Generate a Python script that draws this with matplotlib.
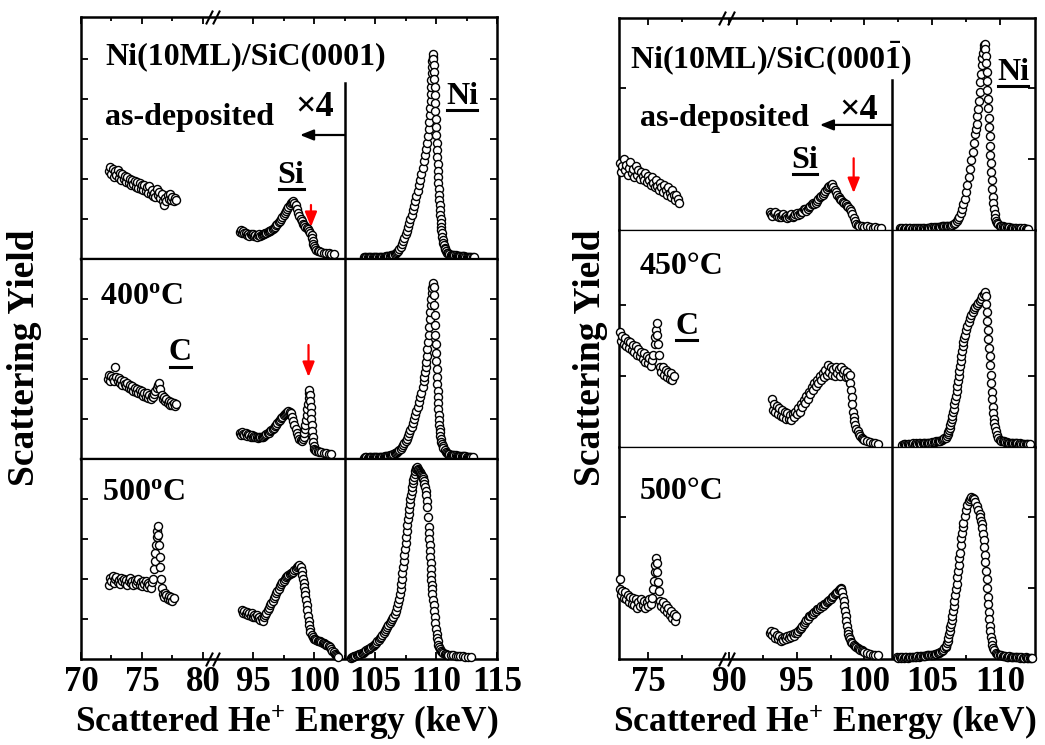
import numpy as np
import matplotlib
matplotlib.use("Agg")
import matplotlib.pyplot as plt
from matplotlib.ticker import FixedLocator, NullFormatter, NullLocator
from matplotlib.lines import Line2D

plt.rcParams['font.family'] = ['Liberation Serif', 'DejaVu Serif']
plt.rcParams['font.weight'] = 'bold'
plt.rcParams['mathtext.fontset'] = 'custom'
plt.rcParams['mathtext.rm'] = 'Liberation Serif:bold'
plt.rcParams['mathtext.bf'] = 'Liberation Serif:bold'
plt.rcParams['mathtext.it'] = 'Liberation Serif:bold:italic'
plt.rcParams['mathtext.default'] = 'rm'

# ---------------- data: (energy keV, yield) ----------------
# left figure, SiC(0001) -- C and Si parts are shown x4
lt_c = [(72.3, 2.2), (72.4, 2.3), (72.5, 2.12), (72.6, 2.25), (72.7, 2.05), (72.8, 2.2),
        (72.9, 2.1), (73.0, 2.22), (73.1, 2.02), (73.2, 2.15), (73.3, 1.98), (73.4, 2.12),
        (73.5, 2.0), (73.6, 2.08), (73.7, 1.92), (73.8, 2.05), (73.9, 1.9), (74.0, 2.0),
        (74.1, 1.85), (74.2, 1.98), (74.3, 1.88), (74.4, 1.95), (74.5, 1.8), (74.6, 1.92),
        (74.7, 1.78), (74.8, 1.9), (74.9, 1.74), (75.0, 1.86), (75.1, 1.72), (75.2, 1.85),
        (75.3, 1.7), (75.4, 1.8), (75.5, 1.66), (75.6, 1.82), (75.7, 1.62), (75.8, 1.72),
        (75.9, 1.58), (76.0, 1.66), (76.1, 1.55), (76.2, 1.74), (76.3, 1.6), (76.4, 1.68),
        (76.5, 1.52), (76.6, 1.62), (76.7, 1.45), (76.8, 1.36), (76.9, 1.52), (77.0, 1.44),
        (77.1, 1.6), (77.2, 1.5), (77.3, 1.62), (77.4, 1.48), (77.5, 1.55), (77.6, 1.45),
        (77.7, 1.52), (77.8, 1.48)]
lt_si = [(93.9, 0.68), (94.0, 0.72), (94.1, 0.66), (94.2, 0.7), (94.3, 0.64), (94.4, 0.66),
         (94.5, 0.6), (94.6, 0.63), (94.7, 0.58), (94.8, 0.62), (94.9, 0.6), (95.0, 0.63),
         (95.1, 0.58), (95.2, 0.6), (95.3, 0.56), (95.4, 0.6), (95.5, 0.62), (95.6, 0.58),
         (95.7, 0.6), (95.8, 0.63), (95.9, 0.62), (96.0, 0.66), (96.1, 0.64), (96.2, 0.68),
         (96.3, 0.7), (96.4, 0.7), (96.5, 0.73), (96.6, 0.74), (96.7, 0.77), (96.8, 0.8),
         (96.9, 0.84), (97.0, 0.88), (97.1, 0.92), (97.2, 0.96), (97.3, 1.0), (97.4, 1.05),
         (97.5, 1.1), (97.6, 1.15), (97.7, 1.2), (97.8, 1.25), (97.9, 1.3), (98.0, 1.35),
         (98.1, 1.39), (98.2, 1.42), (98.3, 1.44), (98.4, 1.4), (98.5, 1.34), (98.6, 1.26),
         (98.7, 1.16), (98.8, 1.07), (98.9, 1.0), (99.0, 0.94), (99.1, 0.88), (99.2, 0.84),
         (99.3, 0.8), (99.4, 0.77), (99.5, 0.74), (99.6, 0.7), (99.7, 0.66), (99.8, 0.6),
         (99.85, 0.52), (99.9, 0.45), (99.95, 0.38), (100.0, 0.32), (100.1, 0.27), (100.2, 0.23),
         (100.3, 0.21), (100.4, 0.19), (100.6, 0.17), (100.8, 0.16), (101.0, 0.15), (101.2, 0.14),
         (101.4, 0.13), (101.6, 0.12)]
lt_ni = [(104.1, .05), (104.2, .04), (104.3, .05), (104.4, .04), (104.5, .05), (104.6, .04),
         (104.7, .05), (104.8, .04), (104.9, .05), (105.0, .05), (105.1, .04), (105.2, .05),
         (105.3, .06), (105.4, .05), (105.5, .06), (105.6, .05), (105.7, .06), (105.8, .06),
         (105.9, .07), (106.0, .07), (106.1, .07), (106.2, .08), (106.3, .09), (106.4, .1),
         (106.5, .11), (106.6, .13), (106.7, .15), (106.8, .18), (106.9, .21), (107.0, .25),
         (107.1, .3), (107.2, .37), (107.3, .45), (107.4, .53), (107.5, .62), (107.6, .7),
         (107.7, .8), (107.8, .9), (107.9, 1.0), (108.0, 1.1), (108.1, 1.22), (108.2, 1.33),
         (108.3, 1.45), (108.4, 1.57), (108.5, 1.7), (108.6, 1.84), (108.7, 1.98), (108.8, 2.12),
         (108.9, 2.28), (109.0, 2.44), (109.1, 2.6), (109.18, 2.75), (109.25, 2.9), (109.32, 3.08),
         (109.4, 3.25), (109.45, 3.42), (109.5, 3.6), (109.53, 3.78), (109.56, 3.95),
         (109.58, 4.12), (109.6, 4.3), (109.63, 4.48), (109.65, 4.65), (109.68, 4.8),
         (109.7, 4.95), (109.73, 5.05), (109.75, 5.12), (109.78, 5.0), (109.8, 4.85),
         (109.83, 4.68), (109.85, 4.5), (109.88, 4.3), (109.9, 4.1), (109.93, 3.9), (109.95, 3.7),
         (109.98, 3.5), (110.0, 3.3), (110.03, 3.1), (110.05, 2.9), (110.08, 2.72), (110.1, 2.55),
         (110.13, 2.38), (110.15, 2.2), (110.18, 2.05), (110.2, 1.9), (110.23, 1.75),
         (110.25, 1.6), (110.28, 1.48), (110.3, 1.35), (110.33, 1.22), (110.35, 1.1),
         (110.38, 1.0), (110.4, 0.9), (110.43, 0.8), (110.45, 0.72), (110.48, 0.64), (110.5, 0.56),
         (110.55, 0.48), (110.6, 0.4), (110.65, 0.34), (110.7, 0.28), (110.75, 0.24), (110.8, 0.2),
         (110.9, 0.16), (111.0, 0.14), (111.1, 0.12), (111.2, 0.11), (111.3, 0.1), (111.4, 0.1),
         (111.5, 0.09), (111.6, 0.09), (111.7, 0.08), (111.8, 0.08), (111.9, 0.08), (112.0, 0.07),
         (112.1, 0.07), (112.2, 0.07), (112.3, 0.07), (112.4, 0.06), (112.5, 0.06), (112.6, 0.06),
         (112.7, 0.06), (112.8, 0.06), (112.9, 0.06), (113.0, 0.05), (113.1, 0.05)]

lm_c = [(72.2, 2.0), (72.3, 2.1), (72.4, 1.95), (72.5, 2.08), (72.6, 2.02), (72.7, 1.96),
        (72.8, 2.3), (72.9, 2.05), (73.0, 1.95), (73.1, 2.02), (73.2, 1.9), (73.3, 1.98),
        (73.4, 1.85), (73.5, 1.94), (73.6, 1.88), (73.7, 1.82), (73.8, 1.9), (73.9, 1.78),
        (74.0, 1.86), (74.1, 1.75), (74.2, 1.82), (74.3, 1.7), (74.4, 1.78), (74.5, 1.68),
        (74.6, 1.76), (74.7, 1.65), (74.8, 1.72), (74.9, 1.62), (75.0, 1.7), (75.1, 1.58),
        (75.2, 1.66), (75.3, 1.56), (75.4, 1.64), (75.5, 1.52), (75.6, 1.6), (75.7, 1.5),
        (75.8, 1.58), (75.9, 1.55), (76.0, 1.62), (76.1, 1.7), (76.2, 1.78), (76.3, 1.85),
        (76.4, 1.9), (76.5, 1.75), (76.6, 1.6), (76.7, 1.5), (76.8, 1.56), (76.9, 1.45),
        (77.0, 1.5), (77.1, 1.4), (77.2, 1.46), (77.3, 1.36), (77.4, 1.42), (77.5, 1.35),
        (77.6, 1.4), (77.7, 1.33), (77.8, 1.38)]
lm_si = [(93.9, 0.65), (94.0, 0.6), (94.1, 0.68), (94.2, 0.62), (94.3, 0.6), (94.4, 0.64),
         (94.5, 0.58), (94.6, 0.62), (94.7, 0.6), (94.8, 0.56), (94.9, 0.6), (95.0, 0.55),
         (95.1, 0.58), (95.2, 0.54), (95.3, 0.56), (95.4, 0.53), (95.5, 0.55), (95.6, 0.54),
         (95.7, 0.56), (95.8, 0.55), (95.9, 0.58), (96.0, 0.59), (96.1, 0.62), (96.2, 0.64),
         (96.3, 0.66), (96.4, 0.69), (96.5, 0.72), (96.6, 0.75), (96.7, 0.78), (96.8, 0.82),
         (96.9, 0.86), (97.0, 0.9), (97.1, 0.94), (97.2, 0.98), (97.3, 1.02), (97.4, 1.06),
         (97.5, 1.1), (97.6, 1.13), (97.7, 1.16), (97.8, 1.18), (97.9, 1.19), (98.0, 1.18),
         (98.1, 1.14), (98.2, 1.06), (98.3, 0.96), (98.4, 0.86), (98.5, 0.76), (98.6, 0.66),
         (98.7, 0.58), (98.8, 0.51), (98.9, 0.47), (99.0, 0.45), (99.1, 0.5), (99.15, 0.56),
         (99.2, 0.64), (99.25, 0.74), (99.3, 0.86), (99.35, 0.98), (99.4, 1.1), (99.45, 1.24),
         (99.5, 1.38), (99.55, 1.52), (99.6, 1.65), (99.63, 1.73), (99.67, 1.6), (99.7, 1.45),
         (99.73, 1.3), (99.76, 1.15), (99.79, 1.0), (99.82, 0.85), (99.85, 0.7), (99.88, 0.55),
         (99.92, 0.42), (99.96, 0.32), (100.0, 0.26), (100.1, 0.22), (100.2, 0.2), (100.3, 0.19),
         (100.4, 0.18), (100.6, 0.17), (100.8, 0.15), (101.0, 0.14), (101.2, 0.13), (101.4, 0.12)]
lm_ni = [(104.1, .03), (104.2, .04), (104.3, .04), (104.4, .03), (104.5, .04), (104.6, .04),
         (104.7, .04), (104.8, .05), (104.9, .04), (105.0, .05), (105.1, .05), (105.2, .05),
         (105.3, .05), (105.4, .05), (105.5, .06), (105.6, .06), (105.7, .06), (105.8, .07),
         (105.9, .07), (106.0, .08), (106.1, .08), (106.2, .09), (106.3, .1), (106.4, .11),
         (106.5, .12), (106.6, .14), (106.7, .16), (106.8, .18), (106.9, .2), (107.0, .23),
         (107.1, .26), (107.2, .3), (107.3, .34), (107.4, .39), (107.5, .45), (107.6, .51),
         (107.7, .58), (107.8, .65), (107.9, .73), (108.0, .81), (108.1, .9), (108.2, 1.0),
         (108.3, 1.1), (108.4, 1.2), (108.5, 1.31), (108.6, 1.42), (108.7, 1.54), (108.8, 1.66),
         (108.9, 1.8), (109.0, 1.95), (109.05, 2.05), (109.1, 2.18), (109.15, 2.3), (109.2, 2.42),
         (109.25, 2.58), (109.3, 2.75), (109.35, 2.92), (109.4, 3.1), (109.45, 3.3), (109.5, 3.5),
         (109.54, 3.68), (109.58, 3.85), (109.62, 4.0), (109.66, 4.15), (109.7, 4.28),
         (109.74, 4.36), (109.78, 4.4), (109.82, 4.3), (109.85, 4.1), (109.87, 3.85), (109.9, 3.6),
         (109.92, 3.35), (109.95, 3.1), (109.97, 2.88), (110.0, 2.65), (110.03, 2.45),
         (110.05, 2.25), (110.08, 2.05), (110.1, 1.88), (110.13, 1.7), (110.15, 1.55),
         (110.18, 1.4), (110.2, 1.25), (110.23, 1.1), (110.25, 0.98), (110.28, 0.86), (110.3, 0.76),
         (110.33, 0.67), (110.36, 0.58), (110.4, 0.5), (110.45, 0.43), (110.5, 0.37),
         (110.55, 0.32), (110.6, 0.28), (110.7, 0.22), (110.8, 0.18), (110.9, 0.15), (111.0, 0.13),
         (111.1, 0.12), (111.2, 0.11), (111.3, 0.1), (111.4, 0.1), (111.5, 0.09), (111.6, 0.09),
         (111.7, 0.08), (111.8, 0.08), (111.9, 0.08), (112.0, 0.08), (112.1, 0.07), (112.2, 0.07),
         (112.3, 0.07), (112.4, 0.07), (112.5, 0.06), (112.6, 0.06), (112.7, 0.06), (112.8, 0.06),
         (112.9, 0.06), (113.0, 0.06)]

lb_c = [(72.3, 1.85), (72.4, 2.02), (72.5, 1.95), (72.6, 2.08), (72.7, 1.9), (72.8, 2.0),
        (72.9, 2.05), (73.0, 1.92), (73.1, 1.98), (73.2, 1.88), (73.3, 2.02), (73.4, 1.94),
        (73.5, 2.0), (73.6, 1.9), (73.7, 1.98), (73.8, 1.86), (73.9, 1.95), (74.0, 2.02),
        (74.1, 1.9), (74.2, 1.96), (74.3, 1.85), (74.4, 1.98), (74.5, 1.88), (74.6, 1.94),
        (74.7, 2.0), (74.8, 1.86), (74.9, 1.92), (75.0, 1.82), (75.1, 1.96), (75.2, 1.88),
        (75.3, 1.95), (75.4, 1.8), (75.5, 1.9), (75.6, 1.84), (75.7, 1.78), (75.8, 1.92),
        (75.9, 2.0), (76.0, 2.25), (76.05, 2.45), (76.1, 2.65), (76.15, 2.85), (76.2, 3.05),
        (76.25, 3.2), (76.3, 3.32), (76.35, 3.1), (76.4, 2.85), (76.45, 2.55), (76.5, 2.3),
        (76.55, 2.0), (76.6, 1.78), (76.7, 1.62), (76.8, 1.55), (76.9, 1.65), (77.0, 1.6),
        (77.1, 1.5), (77.2, 1.58), (77.3, 1.48), (77.4, 1.55), (77.5, 1.46), (77.6, 1.52)]
lb_si = [(94.1, 1.22), (94.2, 1.16), (94.3, 1.2), (94.4, 1.12), (94.5, 1.18), (94.6, 1.1),
         (94.7, 1.15), (94.8, 1.08), (94.9, 1.14), (95.0, 1.06), (95.1, 1.1), (95.2, 1.04),
         (95.3, 1.1), (95.4, 1.02), (95.5, 1.06), (95.6, 0.98), (95.7, 1.02), (95.8, 0.96),
         (95.9, 1.05), (96.0, 1.1), (96.1, 1.16), (96.2, 1.22), (96.3, 1.28), (96.4, 1.34),
         (96.5, 1.4), (96.6, 1.46), (96.7, 1.52), (96.8, 1.58), (96.9, 1.64), (97.0, 1.7),
         (97.1, 1.76), (97.2, 1.82), (97.3, 1.88), (97.4, 1.92), (97.5, 1.96), (97.6, 2.0),
         (97.7, 2.04), (97.8, 2.08), (97.9, 2.1), (98.0, 2.12), (98.1, 2.14), (98.2, 2.16),
         (98.3, 2.18), (98.4, 2.22), (98.5, 2.26), (98.6, 2.3), (98.7, 2.32), (98.8, 2.34),
         (98.9, 2.3), (99.0, 2.2), (99.05, 2.1), (99.1, 2.0), (99.15, 1.9), (99.2, 1.8),
         (99.25, 1.7), (99.3, 1.6), (99.35, 1.48), (99.4, 1.36), (99.45, 1.22), (99.5, 1.08),
         (99.55, 0.95), (99.6, 0.84), (99.65, 0.75), (99.7, 0.68), (99.8, 0.6), (99.9, 0.55),
         (100.0, 0.51), (100.1, 0.49), (100.2, 0.47), (100.3, 0.46), (100.4, 0.45), (100.5, 0.44),
         (100.6, 0.43), (100.7, 0.41), (100.8, 0.4), (100.9, 0.38), (101.0, 0.36), (101.1, 0.34),
         (101.2, 0.32), (101.3, 0.29), (101.4, 0.25), (101.5, 0.21), (101.6, 0.17), (101.7, 0.13),
         (101.8, 0.1), (101.9, 0.07), (102.0, 0.05)]
lb_ni = [(103.0, .03), (103.1, .04), (103.2, .05), (103.3, .07), (103.4, .08), (103.5, .09),
         (103.6, .1), (103.7, .12), (103.8, .13), (103.9, .15), (104.0, .16), (104.1, .18),
         (104.2, .2), (104.3, .22), (104.4, .24), (104.5, .26), (104.6, .28), (104.7, .3),
         (104.8, .32), (104.9, .35), (105.0, .38), (105.1, .41), (105.2, .45), (105.3, .48),
         (105.4, .52), (105.5, .56), (105.6, .6), (105.7, .65), (105.8, .7), (105.9, .75),
         (106.0, .8), (106.1, .85), (106.2, .9), (106.3, .95), (106.4, 1.0), (106.5, 1.06),
         (106.6, 1.12), (106.7, 1.2), (106.8, 1.3), (106.88, 1.4), (106.95, 1.5), (107.02, 1.62),
         (107.1, 1.75), (107.15, 1.88), (107.2, 2.0), (107.25, 2.15), (107.3, 2.3), (107.35, 2.45),
         (107.4, 2.6), (107.45, 2.75), (107.5, 2.9), (107.55, 3.05), (107.6, 3.2), (107.65, 3.35),
         (107.7, 3.5), (107.75, 3.62), (107.8, 3.75), (107.85, 3.88), (107.9, 4.0), (107.95, 4.1),
         (108.0, 4.2), (108.05, 4.3), (108.1, 4.4), (108.15, 4.48), (108.2, 4.55), (108.25, 4.62),
         (108.3, 4.7), (108.35, 4.75), (108.4, 4.78), (108.45, 4.8), (108.5, 4.75), (108.55, 4.72),
         (108.6, 4.7), (108.65, 4.68), (108.7, 4.65), (108.75, 4.62), (108.8, 4.6), (108.85, 4.58),
         (108.9, 4.55), (108.95, 4.5), (109.0, 4.45), (109.05, 4.38), (109.1, 4.3), (109.15, 4.2),
         (109.2, 4.1), (109.25, 3.95), (109.3, 3.8), (109.35, 3.55), (109.4, 3.3), (109.43, 3.15),
         (109.45, 3.0), (109.48, 2.85), (109.5, 2.7), (109.53, 2.55), (109.55, 2.4),
         (109.58, 2.25), (109.6, 2.1), (109.63, 1.98), (109.65, 1.85), (109.68, 1.74),
         (109.7, 1.62), (109.75, 1.48), (109.8, 1.35), (109.85, 1.2), (109.9, 1.05), (109.95, 0.9),
         (110.0, 0.75), (110.05, 0.63), (110.1, 0.52), (110.15, 0.44), (110.2, 0.36), (110.25, 0.3),
         (110.3, 0.25), (110.4, 0.2), (110.5, 0.17), (110.6, 0.14), (110.7, 0.13), (110.8, 0.12),
         (110.9, 0.11), (111.0, 0.1), (111.2, 0.09), (111.4, 0.09), (111.6, 0.08), (111.8, 0.08),
         (112.0, 0.07), (112.2, 0.07), (112.4, 0.06), (112.6, 0.06), (112.9, 0.05)]

# right figure, SiC(000-1)
rt_c = [(72.9, 0.95), (73.0, 0.82), (73.1, 0.9), (73.2, 1.0), (73.3, 0.84), (73.4, 0.92),
        (73.5, 0.78), (73.6, 0.88), (73.7, 0.96), (73.8, 0.8), (73.9, 0.86), (74.0, 0.74),
        (74.1, 0.9), (74.2, 0.78), (74.3, 0.84), (74.4, 0.72), (74.5, 0.82), (74.6, 0.76),
        (74.7, 0.7), (74.8, 0.8), (74.9, 0.68), (75.0, 0.76), (75.1, 0.7), (75.2, 0.64),
        (75.3, 0.74), (75.4, 0.66), (75.5, 0.6), (75.6, 0.7), (75.7, 0.62), (75.8, 0.56),
        (75.9, 0.66), (76.0, 0.6), (76.1, 0.54), (76.2, 0.64), (76.3, 0.56), (76.4, 0.5),
        (76.5, 0.6), (76.6, 0.52), (76.7, 0.46), (76.8, 0.56), (76.9, 0.5), (77.0, 0.42),
        (77.1, 0.5), (77.2, 0.44), (77.3, 0.38)]
rt_si = [(93.0, 0.26), (93.1, 0.22), (93.2, 0.2), (93.3, 0.24), (93.4, 0.25), (93.5, 0.2),
         (93.6, 0.22), (93.7, 0.19), (93.8, 0.18), (93.9, 0.21), (94.0, 0.23), (94.1, 0.19),
         (94.2, 0.2), (94.3, 0.17), (94.4, 0.18), (94.5, 0.21), (94.6, 0.22), (94.7, 0.19),
         (94.8, 0.2), (94.9, 0.23), (95.0, 0.24), (95.1, 0.21), (95.2, 0.22), (95.3, 0.25),
         (95.4, 0.26), (95.5, 0.29), (95.6, 0.3), (95.7, 0.27), (95.8, 0.29), (95.9, 0.32),
         (96.0, 0.34), (96.1, 0.37), (96.2, 0.38), (96.3, 0.36), (96.4, 0.38), (96.5, 0.41),
         (96.6, 0.43), (96.7, 0.46), (96.8, 0.48), (96.9, 0.5), (97.0, 0.52), (97.1, 0.55),
         (97.2, 0.58), (97.3, 0.6), (97.4, 0.62), (97.5, 0.64), (97.6, 0.65), (97.7, 0.6),
         (97.8, 0.56), (97.9, 0.53), (98.0, 0.5), (98.1, 0.47), (98.2, 0.44), (98.3, 0.42),
         (98.4, 0.4), (98.5, 0.38), (98.6, 0.36), (98.7, 0.34), (98.8, 0.32), (98.9, 0.3),
         (99.0, 0.27), (99.1, 0.22), (99.2, 0.17), (99.3, 0.12), (99.4, 0.09), (99.5, 0.07),
         (99.6, 0.06), (99.8, 0.05), (100.0, 0.04), (100.2, 0.05), (100.4, 0.04), (100.6, 0.03),
         (100.8, 0.04), (101.0, 0.03), (101.2, 0.03)]
rt_ni = [(102.6, .03), (102.7, .02), (102.8, .03), (102.9, .02), (103.0, .03), (103.1, .03),
         (103.2, .02), (103.3, .03), (103.4, .03), (103.5, .02), (103.6, .03), (103.7, .03),
         (103.8, .02), (103.9, .03), (104.0, .03), (104.1, .02), (104.2, .03), (104.3, .03),
         (104.4, .03), (104.5, .02), (104.6, .03), (104.7, .03), (104.8, .03), (104.9, .04),
         (105.0, .03), (105.1, .04), (105.2, .03), (105.3, .04), (105.4, .04), (105.5, .04),
         (105.6, .04), (105.7, .05), (105.8, .05), (105.9, .05), (106.0, .05), (106.1, .05),
         (106.2, .05), (106.3, .06), (106.4, .06), (106.5, .07), (106.6, .08), (106.7, .1),
         (106.8, .12), (106.9, .15), (107.0, .19), (107.1, .24), (107.2, .3), (107.3, .36),
         (107.4, .44), (107.5, .53), (107.6, .63), (107.7, .74), (107.8, .86), (107.9, .98),
         (108.0, 1.1), (108.1, 1.22), (108.2, 1.35), (108.25, 1.42), (108.3, 1.5), (108.35, 1.6),
         (108.4, 1.7), (108.45, 1.82), (108.5, 1.95), (108.55, 2.08), (108.6, 2.2), (108.65, 2.32),
         (108.7, 2.42), (108.75, 2.5), (108.8, 2.56), (108.85, 2.6), (108.9, 2.62), (108.94, 2.55),
         (108.97, 2.45), (109.0, 2.35), (109.03, 2.22), (109.06, 2.1), (109.09, 1.97),
         (109.12, 1.84), (109.15, 1.72), (109.18, 1.58), (109.21, 1.45), (109.24, 1.32),
         (109.27, 1.19), (109.3, 1.06), (109.33, 0.94), (109.36, 0.82), (109.4, 0.7),
         (109.44, 0.58), (109.48, 0.47), (109.52, 0.38), (109.57, 0.3), (109.62, 0.23),
         (109.68, 0.17), (109.75, 0.13), (109.82, 0.1), (109.9, 0.08), (110.0, 0.06), (110.1, 0.05),
         (110.2, 0.05), (110.3, 0.04), (110.4, 0.04), (110.5, 0.04), (110.6, 0.03), (110.7, 0.04),
         (110.8, 0.03), (110.9, 0.03), (111.0, 0.03), (111.1, 0.03), (111.2, 0.03), (111.3, 0.02),
         (111.4, 0.03), (111.5, 0.02), (111.6, 0.03), (111.7, 0.02), (111.8, 0.03), (111.9, 0.02),
         (112.0, 0.02), (112.1, 0.02)]

rm_c = [(72.9, 1.62), (73.0, 1.5), (73.1, 1.56), (73.2, 1.45), (73.3, 1.54), (73.4, 1.42),
        (73.5, 1.5), (73.6, 1.4), (73.7, 1.48), (73.8, 1.36), (73.9, 1.44), (74.0, 1.34),
        (74.1, 1.42), (74.2, 1.3), (74.3, 1.38), (74.4, 1.28), (74.5, 1.34), (74.6, 1.24),
        (74.7, 1.32), (74.8, 1.2), (74.9, 1.28), (75.0, 1.18), (75.1, 1.25), (75.2, 1.14),
        (75.3, 1.22), (75.4, 1.3), (75.5, 1.45), (75.55, 1.55), (75.6, 1.65), (75.65, 1.74),
        (75.7, 1.58), (75.75, 1.45), (75.8, 1.3), (75.9, 1.12), (76.0, 1.06), (76.1, 1.12),
        (76.2, 1.02), (76.3, 1.08), (76.4, 0.98), (76.5, 1.05), (76.6, 0.96), (76.7, 1.04),
        (76.8, 0.95), (76.9, 1.0)]
rm_si = [(93.2, 0.68), (93.25, 0.52), (93.3, 0.6), (93.4, 0.5), (93.5, 0.58), (93.6, 0.46),
         (93.7, 0.55), (93.8, 0.44), (93.9, 0.52), (94.0, 0.42), (94.1, 0.5), (94.2, 0.4),
         (94.3, 0.48), (94.4, 0.4), (94.5, 0.45), (94.6, 0.38), (94.7, 0.46), (94.8, 0.42),
         (94.9, 0.5), (95.0, 0.46), (95.1, 0.55), (95.2, 0.5), (95.3, 0.6), (95.4, 0.56),
         (95.5, 0.66), (95.6, 0.62), (95.7, 0.72), (95.8, 0.68), (95.9, 0.78), (96.0, 0.74),
         (96.1, 0.84), (96.2, 0.8), (96.3, 0.9), (96.4, 0.86), (96.5, 0.95), (96.6, 0.9),
         (96.7, 1.0), (96.8, 0.94), (96.9, 1.04), (97.0, 0.98), (97.1, 1.08), (97.2, 1.02),
         (97.3, 1.15), (97.4, 1.06), (97.5, 1.12), (97.6, 1.02), (97.7, 1.1), (97.8, 1.0),
         (97.9, 1.12), (98.0, 1.04), (98.1, 1.1), (98.2, 1.0), (98.3, 1.12), (98.4, 1.04),
         (98.5, 1.08), (98.6, 0.98), (98.7, 1.06), (98.8, 0.98), (98.9, 1.02), (98.95, 0.9),
         (99.0, 0.8), (99.05, 0.7), (99.1, 0.6), (99.15, 0.5), (99.2, 0.42), (99.25, 0.36),
         (99.3, 0.31), (99.4, 0.26), (99.5, 0.22), (99.6, 0.19), (99.7, 0.16), (99.8, 0.13),
         (99.9, 0.11), (100.0, 0.1), (100.2, 0.08), (100.4, 0.07), (100.6, 0.05), (100.8, 0.05),
         (101.0, 0.04)]
rm_ni = [(102.8, .03), (102.9, .04), (103.0, .04), (103.1, .03), (103.2, .04), (103.3, .04),
         (103.4, .03), (103.5, .04), (103.6, .05), (103.7, .04), (103.8, .05), (103.9, .04),
         (104.0, .05), (104.1, .05), (104.2, .04), (104.3, .05), (104.4, .05), (104.5, .06),
         (104.6, .05), (104.7, .06), (104.8, .06), (104.9, .06), (105.0, .07), (105.1, .07),
         (105.2, .07), (105.3, .08), (105.4, .08), (105.5, .09), (105.6, .09), (105.7, .1),
         (105.8, .11), (105.9, .12), (106.0, .13), (106.1, .15), (106.15, .18), (106.2, .21),
         (106.25, .24), (106.3, .27), (106.35, .31), (106.4, .35), (106.45, .39), (106.5, .44),
         (106.55, .49), (106.6, .54), (106.65, .6), (106.7, .66), (106.75, .72), (106.8, .79),
         (106.85, .86), (106.9, .93), (106.95, 1.0), (107.0, 1.07), (107.05, 1.14), (107.1, 1.21),
         (107.15, 1.28), (107.2, 1.35), (107.25, 1.42), (107.3, 1.48), (107.35, 1.53),
         (107.4, 1.58), (107.5, 1.65), (107.6, 1.71), (107.7, 1.76), (107.8, 1.81), (107.9, 1.86),
         (108.0, 1.9), (108.1, 1.94), (108.2, 1.97), (108.3, 2.0), (108.4, 2.03), (108.5, 2.06),
         (108.6, 2.09), (108.7, 2.12), (108.8, 2.15), (108.9, 2.18), (108.95, 2.12), (109.0, 2.02),
         (109.04, 1.9), (109.08, 1.78), (109.12, 1.65), (109.16, 1.52), (109.2, 1.4),
         (109.24, 1.28), (109.28, 1.15), (109.32, 1.02), (109.36, 0.9), (109.4, 0.78),
         (109.44, 0.67), (109.48, 0.57), (109.52, 0.48), (109.56, 0.4), (109.6, 0.34),
         (109.65, 0.28), (109.7, 0.23), (109.8, 0.17), (109.9, 0.13), (110.0, 0.1), (110.1, 0.09),
         (110.2, 0.08), (110.3, 0.08), (110.4, 0.07), (110.5, 0.07), (110.6, 0.06), (110.7, 0.06),
         (110.8, 0.06), (110.9, 0.05), (111.0, 0.05), (111.1, 0.05), (111.2, 0.05), (111.3, 0.05),
         (111.4, 0.04), (111.5, 0.05), (111.6, 0.04), (111.7, 0.04), (111.8, 0.04), (111.9, 0.04),
         (112.0, 0.04), (112.1, 0.04), (112.2, 0.04)]

rb_c = [(72.9, 1.12), (72.95, 0.98), (73.0, 0.9), (73.1, 0.96), (73.2, 0.86), (73.3, 0.94),
        (73.4, 0.84), (73.5, 0.9), (73.6, 0.8), (73.7, 0.88), (73.8, 0.78), (73.9, 0.86),
        (74.0, 0.76), (74.1, 0.84), (74.2, 0.72), (74.3, 0.8), (74.4, 0.74), (74.5, 0.84),
        (74.6, 0.76), (74.7, 0.82), (74.8, 0.72), (74.9, 0.8), (75.0, 0.74), (75.1, 0.84),
        (75.2, 0.78), (75.3, 0.86), (75.4, 0.98), (75.45, 1.1), (75.5, 1.22), (75.55, 1.32),
        (75.6, 1.42), (75.65, 1.35), (75.7, 1.22), (75.75, 1.08), (75.8, 0.96), (75.9, 0.82),
        (76.0, 0.74), (76.1, 0.8), (76.2, 0.7), (76.3, 0.76), (76.4, 0.66), (76.5, 0.72),
        (76.6, 0.62), (76.7, 0.68), (76.8, 0.58), (76.9, 0.64), (77.0, 0.54), (77.1, 0.6)]
rb_si = [(93.0, 0.36), (93.1, 0.4), (93.2, 0.34), (93.3, 0.38), (93.4, 0.3), (93.5, 0.34),
         (93.6, 0.28), (93.7, 0.32), (93.8, 0.26), (93.9, 0.3), (94.0, 0.27), (94.1, 0.31),
         (94.2, 0.28), (94.3, 0.33), (94.4, 0.3), (94.5, 0.34), (94.6, 0.31), (94.7, 0.35),
         (94.8, 0.33), (94.9, 0.37), (95.0, 0.36), (95.1, 0.4), (95.2, 0.42), (95.3, 0.44),
         (95.4, 0.47), (95.5, 0.5), (95.6, 0.52), (95.7, 0.55), (95.8, 0.57), (95.9, 0.6),
         (96.0, 0.61), (96.1, 0.63), (96.2, 0.64), (96.3, 0.66), (96.4, 0.68), (96.5, 0.7),
         (96.6, 0.71), (96.7, 0.72), (96.8, 0.74), (96.9, 0.75), (97.0, 0.77), (97.1, 0.78),
         (97.2, 0.8), (97.3, 0.81), (97.4, 0.83), (97.5, 0.85), (97.6, 0.87), (97.7, 0.89),
         (97.8, 0.91), (97.9, 0.93), (98.0, 0.95), (98.1, 0.97), (98.2, 0.99), (98.25, 1.0),
         (98.3, 0.98), (98.35, 0.94), (98.4, 0.88), (98.45, 0.82), (98.5, 0.75), (98.55, 0.68),
         (98.6, 0.6), (98.65, 0.53), (98.7, 0.46), (98.75, 0.4), (98.8, 0.35), (98.85, 0.31),
         (98.9, 0.28), (99.0, 0.24), (99.1, 0.22), (99.2, 0.2), (99.3, 0.18), (99.4, 0.17),
         (99.5, 0.16), (99.6, 0.14), (99.7, 0.13), (99.8, 0.12), (99.9, 0.11), (100.0, 0.1),
         (100.2, 0.08), (100.4, 0.07), (100.6, 0.06), (100.8, 0.05), (101.0, 0.05)]
rb_ni = [(102.4, .03), (102.5, .02), (102.6, .03), (102.7, .02), (102.8, .03), (102.9, .02),
         (103.0, .03), (103.1, .03), (103.2, .02), (103.3, .03), (103.4, .03), (103.5, .03),
         (103.6, .03), (103.7, .03), (103.8, .03), (103.9, .04), (104.0, .03), (104.1, .04),
         (104.2, .04), (104.3, .04), (104.4, .04), (104.5, .04), (104.6, .05), (104.7, .05),
         (104.8, .05), (104.9, .05), (105.0, .06), (105.1, .06), (105.2, .07), (105.3, .07),
         (105.4, .08), (105.5, .09), (105.6, .1), (105.7, .11), (105.8, .13), (105.9, .15),
         (106.0, .17), (106.05, .19), (106.1, .22), (106.15, .26), (106.2, .3), (106.25, .35),
         (106.3, .4), (106.35, .45), (106.4, .5), (106.45, .55), (106.5, .6), (106.55, .67),
         (106.6, .74), (106.65, .82), (106.7, .9), (106.75, .98), (106.8, 1.06), (106.85, 1.15),
         (106.9, 1.24), (106.95, 1.33), (107.0, 1.42), (107.05, 1.5), (107.1, 1.6), (107.15, 1.7),
         (107.2, 1.78), (107.25, 1.86), (107.3, 1.92), (107.4, 2.02), (107.5, 2.1), (107.6, 2.17),
         (107.7, 2.22), (107.8, 2.26), (107.9, 2.28), (108.0, 2.27), (108.1, 2.25), (108.2, 2.21),
         (108.3, 2.16), (108.4, 2.1), (108.5, 2.04), (108.55, 2.0), (108.6, 1.95), (108.65, 1.9),
         (108.7, 1.84), (108.75, 1.76), (108.8, 1.68), (108.85, 1.58), (108.9, 1.47),
         (108.94, 1.36), (108.98, 1.24), (109.02, 1.12), (109.06, 1.0), (109.1, 0.88),
         (109.14, 0.77), (109.18, 0.66), (109.22, 0.56), (109.26, 0.47), (109.3, 0.39),
         (109.35, 0.31), (109.4, 0.25), (109.45, 0.2), (109.5, 0.16), (109.6, 0.12), (109.7, 0.09),
         (109.8, 0.07), (109.9, 0.06), (110.0, 0.05), (110.1, 0.05), (110.2, 0.04), (110.3, 0.04),
         (110.4, 0.04), (110.5, 0.03), (110.6, 0.03), (110.7, 0.04), (110.8, 0.03), (110.9, 0.03),
         (111.0, 0.03), (111.1, 0.03), (111.2, 0.03), (111.3, 0.03), (111.4, 0.03), (111.5, 0.02),
         (111.6, 0.03), (111.7, 0.02), (111.8, 0.02), (111.9, 0.03), (112.0, 0.02), (112.1, 0.02),
         (112.2, 0.02), (112.3, 0.02), (112.4, 0.02)]

left_rows = [[lt_c, lt_si, lt_ni], [lm_c, lm_si, lm_ni], [lb_c, lb_si, lb_ni]]
right_rows = [[rt_c, rt_si, rt_ni], [rm_c, rm_si, rm_ni], [rb_c, rb_si, rb_ni]]

left_ticks = [70, 75, 80, 95, 100, 105, 110, 115]
left_minor = [72.5, 77.5, 97.5, 102.5, 107.5, 112.5]
right_ticks = [75, 90, 95, 100, 105, 110]
right_minor = [77.5, 92.5, 97.5, 102.5, 107.5]

# ---------------- layout ----------------
W, H = 1045, 745
fig = plt.figure(figsize=(W / 100, H / 100), dpi=100)
renderer = fig.canvas.get_renderer()
FS = 23


def broken(a, b):
    gap = b - a

    def fwd(x):
        x = np.asarray(x, dtype=float)
        return np.where(x <= a, x, np.where(x >= b, x - gap, a))

    def inv(u):
        u = np.asarray(u, dtype=float)
        return np.where(u <= a, u, u + gap)
    return fwd, inv


def make_panel(x0, x1, rows, unit, xlim, brk, major, minor, yt, rows_data, inner_lw):
    axes = []
    for i, ((y0, y1), segs) in enumerate(zip(rows, rows_data)):
        ax = fig.add_axes([x0 / W, 1 - y1 / H, (x1 - x0) / W, (y1 - y0) / H])
        ax.set_xscale('function', functions=broken(*brk))
        ax.set_xlim(*xlim)
        ax.set_ylim(0, (y1 - y0) / unit)
        ax.xaxis.set_major_locator(FixedLocator(major))
        ax.xaxis.set_minor_locator(FixedLocator(minor))
        ax.xaxis.set_minor_formatter(NullFormatter())
        ax.yaxis.set_major_locator(FixedLocator(yt))
        ax.yaxis.set_minor_locator(NullLocator())
        ax.set_xticklabels([str(v) for v in major])
        ax.tick_params(axis='both', which='both', direction='in', width=1.3,
                       left=True, right=True, top=(i == 0), bottom=(i == 2),
                       labelleft=False, labelbottom=(i == 2), labelsize=25, pad=5)
        ax.tick_params(axis='both', which='major', length=5)
        ax.tick_params(axis='x', which='minor', length=3)
        for s in ('left', 'right'):
            ax.spines[s].set_linewidth(1.8)
        ax.spines['top'].set_linewidth(1.8 if i == 0 else inner_lw)
        ax.spines['bottom'].set_linewidth(1.8 if i == 2 else inner_lw)
        for seg in segs:
            e, y = np.array(seg).T
            ax.plot(e, y, 'o', ms=5.8, mfc='white', mec='black', mew=1.0,
                    clip_on=False, zorder=3)
        axes.append(ax)
    # axis break marks
    for ax, yy in ((axes[0], 1), (axes[2], 0)):
        ax.plot([brk[0] - 0.3, brk[1] + 0.3], [yy, yy], transform=ax.get_xaxis_transform(),
                marker=[(-0.5, -1), (0.5, 1)], ms=10, ls='none', mec='k', mew=1.5,
                clip_on=False, zorder=5)
    return axes


L = make_panel(81, 497, [(17, 259), (259, 459), (459, 659)], 40, (70, 115), (80.8, 91.7),
               left_ticks, left_minor, [1, 2, 3, 4, 5], left_rows, 1.6)
R = make_panel(619, 1035, [(18, 230), (230, 447), (447, 659)], 71, (72.86, 112.6), (80.8, 89.8),
               right_ticks, right_minor, [1, 2], right_rows, 0.9)


def label(ax, x, y, s, size=FS, ha='left', underline=False):
    t = ax.text(x, y, s, transform=ax.transAxes, fontsize=size, ha=ha, va='center',
                fontweight='bold', zorder=6)
    if underline:
        bb = t.get_window_extent(renderer=renderer)
        inv = ax.transAxes.inverted()
        (ux0, uy), (ux1, _) = inv.transform([(bb.x0 + 1, bb.y0 + 1), (bb.x1 - 1, bb.y0 + 1)])
        ax.add_line(Line2D([ux0, ux1], [uy, uy], transform=ax.transAxes, color='k', lw=2.2,
                           clip_on=False))
    return t


def red_arrow(ax, x, ytop, ybot):
    ax.annotate('', xy=(x, ybot), xytext=(x, ytop),
                arrowprops=dict(arrowstyle='-|>,head_length=0.5,head_width=0.2', color='red',
                                lw=1.6, shrinkA=0, shrinkB=0, mutation_scale=18))


def x4_arrow(ax, x_from, x_to, y):
    ax.annotate('', xy=(x_to, y), xytext=(x_from, y),
                arrowprops=dict(arrowstyle='-|>,head_length=0.5,head_width=0.2', color='k',
                                lw=1.6, shrinkA=0, shrinkB=0, mutation_scale=16))


# vertical dividers between the x4 part and the Ni part
L[0].axvline(102.5, ymax=0.727, color='k', lw=1.8)
L[1].axvline(102.5, color='k', lw=1.8)
L[2].axvline(102.5, color='k', lw=1.8)
R[0].axvline(102.0, ymax=0.708, color='k', lw=1.8)
R[1].axvline(102.0, color='k', lw=1.8)
R[2].axvline(102.0, color='k', lw=1.8)

# left figure annotations
label(L[0], 0.058, 0.835, 'Ni(10ML)/SiC(0001)')
label(L[0], 0.058, 0.583, 'as-deposited')
label(L[0], 0.5625, 0.624, '\u00d74', size=26, ha='center')
x4_arrow(L[0], 102.5, 98.85, 3.1)
label(L[0], 0.916, 0.67, 'Ni', ha='center', underline=True)
label(L[0], 0.505, 0.343, 'Si', ha='center', underline=True)
red_arrow(L[0], 99.75, 1.35, 0.8)
label(L[1], 0.046, 0.81, '400$^{\\rm o}$C')
label(L[1], 0.238, 0.53, 'C', ha='center', underline=True)
red_arrow(L[1], 99.55, 2.85, 2.05)
label(L[2], 0.05, 0.83, '500$^{\\rm o}$C')

# right figure annotations
label(R[0], 0.026, 0.81, 'Ni(10ML)/SiC(000$\\bar{1}$)')
label(R[0], 0.05, 0.528, 'as-deposited')
label(R[0], 0.575, 0.566, '\u00d74', size=26, ha='center')
x4_arrow(R[0], 102.0, 96.7, 1.48)
label(R[0], 0.447, 0.33, 'Si', ha='center', underline=True)
label(R[0], 0.947, 0.745, 'Ni', ha='center', underline=True)
red_arrow(R[0], 99.2, 1.01, 0.52)
label(R[1], 0.05, 0.83, '450\u00b0C')
label(R[1], 0.163, 0.553, 'C', ha='center', underline=True)
label(R[2], 0.05, 0.788, '500\u00b0C')

# axis titles
for xc in (287 / W, 825 / W):
    fig.text(xc, 1 - 723 / H, 'Scattered He$^{+}$ Energy (keV)', fontsize=25.5,
             fontweight='bold', ha='center', va='center')
for xc in (25 / W, 590 / W):
    fig.text(xc, 1 - 358 / H, 'Scattering Yield', fontsize=27, fontweight='bold',
             rotation=90, ha='center', va='center')

fig.savefig('out.png', dpi=100)
